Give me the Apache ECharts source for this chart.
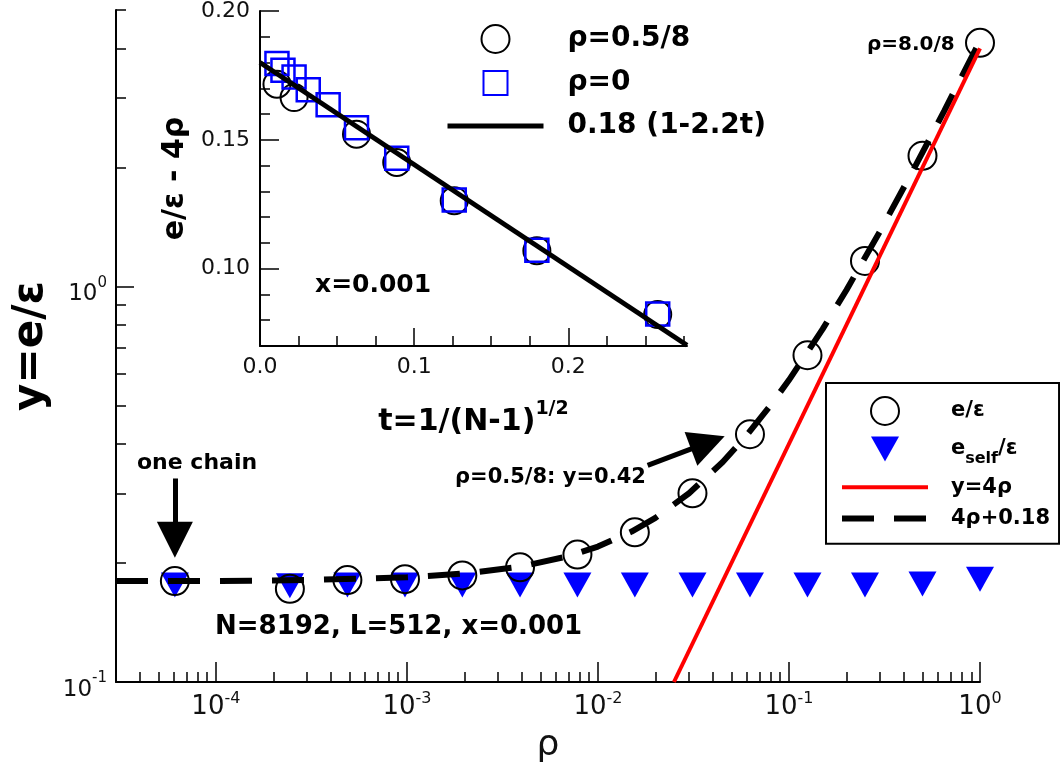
<!DOCTYPE html>
<html>
<head>
<meta charset="utf-8">
<script src="https://cdn.jsdelivr.net/npm/echarts@6/dist/echarts.min.js"></script>
<style>
html, body { margin: 0; padding: 0; background: #fff; }
#main { width: 1060px; height: 771px; }
</style>
</head>
<body>
<div id="main"></div>
<script>
// ---- main plot (log-log): y = e/eps against rho ----
var rho    = [6.1e-5, 2.44e-4, 4.88e-4, 9.77e-4, 1.95e-3, 3.91e-3, 7.81e-3, 0.0156, 0.03125, 0.0625, 0.125, 0.25, 0.5, 1.0];
var eTotal = [0.180, 0.172, 0.181, 0.182, 0.186, 0.195, 0.210, 0.239, 0.300, 0.423, 0.67, 1.16, 2.14, 4.13];
var eSelf  = [0.176, 0.175, 0.176, 0.176, 0.176, 0.176, 0.176, 0.176, 0.176, 0.176, 0.176, 0.176, 0.177, 0.182];

// dashed curve 4rho+0.18
var dashRho = [3e-5, 1e-4, 3e-4, 1e-3, 2e-3, 4e-3, 7e-3, 0.01, 0.015, 0.02, 0.03, 0.045, 0.06, 0.08, 0.1, 0.15, 0.2, 0.3, 0.45, 0.65, 1.0];
var dashY   = [0.180, 0.180, 0.181, 0.184, 0.188, 0.196, 0.208, 0.220, 0.240, 0.260, 0.300, 0.360, 0.420, 0.500, 0.580, 0.780, 0.980, 1.380, 1.980, 2.780, 4.180];
// red line y=4rho
var redRho = [0.025, 1.0];
var redY   = [0.1, 4.0];

var xMajor = [1e-4, 1e-3, 1e-2, 1e-1, 1];
var yMajor = [0.1, 1];

// ---- inset: e/eps - 4rho against t ----
var tSquare   = [0.0110, 0.0149, 0.0221, 0.0313, 0.0442, 0.0626, 0.0887, 0.126, 0.1796, 0.258];
var valSquare = [0.1796, 0.1770, 0.1744, 0.1694, 0.1636, 0.1547, 0.1429, 0.1267, 0.1072, 0.0824];
var tCircle   = [0.0110, 0.0221, 0.0626, 0.0887, 0.126, 0.1796, 0.258];
var valCircle = [0.1716, 0.1664, 0.1522, 0.1412, 0.1264, 0.1070, 0.0822];
var fitT = [0, 0.277];
var fitV = [0.18, 0.0703];

var tMajor = [0, 0.1, 0.2];
var tMinor = [0.025, 0.05, 0.075, 0.125, 0.15, 0.175, 0.225, 0.25, 0.275];
var inYMajor = [0.10, 0.15, 0.20];
var inYMinor = [0.08, 0.09, 0.11, 0.12, 0.13, 0.14, 0.16, 0.17, 0.18, 0.19];

// arrows (start, end) in data coords of the main plot
var arrowOneChain = [[6.1e-5, 0.327], [6.1e-5, 0.229]];
var arrowHalf     = [[0.0182, 0.353], [0.0376, 0.403]];

var xMinor = [], yMinor = [];
[1e-5, 1e-4, 1e-3, 1e-2, 1e-1].forEach(function (d) {
  for (var k = 2; k <= 9; k++) { var v = +(k * d).toPrecision(3); if (v >= 3e-5 && v < 1) xMinor.push(v); }
});
[0.1, 1].forEach(function (d) {
  for (var k = 2; k <= 9; k++) { var v = +(k * d).toPrecision(3); if (v <= 5) yMinor.push(v); }
});

function zip(a, b) { return a.map(function (v, i) { return [v, b[i]]; }); }
function pow10(v) { return '{b|10}{s|' + Math.round(Math.log10(v)) + '}'; }

var FONT = '"DejaVu Sans", "Liberation Sans", Arial, sans-serif';
var tick = { color: '#000', width: 1.5 };
var line2 = { color: '#000', width: 2 };
var hideSym = { color: 'rgba(0,0,0,0)', borderWidth: 0, opacity: 0 };
// legend keys: the leading moves fix the 28x28 box so the shape keeps its size
var iconTriDown = 'path://M0,0M28,28M0,1.5L28,1.5L14,26.5Z';
var iconSquare = 'path://M0,0M28,28M2,2L26,2L26,26L2,26Z';

var chart = echarts.init(document.getElementById('main'), null, { renderer: 'canvas' });

var option = {
  animation: false,
  backgroundColor: '#fff',
  textStyle: { fontFamily: FONT, color: '#000' },
  grid: [
    { left: 116, top: 10, right: 80, bottom: 89 },
    { left: 260, top: 10, right: 373, bottom: 425 }
  ],
  xAxis: [
    {
      type: 'log', gridIndex: 0, position: 'bottom', min: 3e-5, max: 1,
      axisLine: { lineStyle: line2 },
      axisTick: { inside: true, length: 20, customValues: xMajor, lineStyle: tick },
      axisLabel: {
        customValues: xMajor, formatter: pow10, margin: 10, color: '#000',
        rich: {
          b: { fontSize: 26, lineHeight: 30, fontFamily: FONT, color: '#111' },
          s: { fontSize: 16, lineHeight: 30, padding: [0, 0, 16, 0], fontFamily: FONT, color: '#111' }
        }
      },
      splitLine: { show: false },
      name: 'ρ', nameLocation: 'middle', nameGap: 43,
      nameTextStyle: { fontSize: 36, color: '#111', fontFamily: FONT }
    },
    {
      type: 'log', gridIndex: 0, position: 'bottom', offset: 0, min: 3e-5, max: 1,
      axisLine: { show: false },
      axisTick: { inside: true, length: 10, customValues: xMinor, lineStyle: tick },
      axisLabel: { show: false }, splitLine: { show: false }
    },
    {
      type: 'value', gridIndex: 1, position: 'bottom', min: 0, max: 0.277,
      axisLine: { lineStyle: line2 },
      axisTick: { inside: true, length: 18, customValues: tMajor, lineStyle: tick },
      axisLabel: {
        customValues: tMajor, margin: 10, fontSize: 22, color: '#111',
        formatter: function (v) { return v.toFixed(1); }
      },
      splitLine: { show: false },
      name: '{a|t=1/(N-1)}{s|1/2}', nameLocation: 'middle', nameGap: 58,
      nameTextStyle: {
        rich: {
          a: { fontSize: 30, fontWeight: 'bold', lineHeight: 36, fontFamily: FONT, color: '#000' },
          s: { fontSize: 19, fontWeight: 'bold', lineHeight: 36, padding: [0, 0, 26, 0], fontFamily: FONT, color: '#000' }
        }
      }
    },
    {
      type: 'value', gridIndex: 1, position: 'bottom', offset: 0, min: 0, max: 0.277,
      axisLine: { show: false },
      axisTick: { inside: true, length: 10, customValues: tMinor, lineStyle: tick },
      axisLabel: { show: false }, splitLine: { show: false }
    }
  ],
  yAxis: [
    {
      type: 'log', gridIndex: 0, position: 'left', min: 0.1, max: 5,
      axisLine: { lineStyle: line2 },
      axisTick: { inside: true, length: 18, customValues: yMajor, lineStyle: tick },
      axisLabel: {
        customValues: yMajor, formatter: pow10, margin: 9, color: '#111',
        rich: {
          b: { fontSize: 23, lineHeight: 28, padding: [16, 0, 0, 0], fontFamily: FONT, color: '#111' },
          s: { fontSize: 15, lineHeight: 28, padding: [0, 0, 7, 0], fontFamily: FONT, color: '#111' }
        }
      },
      splitLine: { show: false },
      name: 'y=e/ε', nameLocation: 'middle', nameRotate: 90, nameGap: 60,
      nameTextStyle: { fontSize: 42, fontWeight: 'bold', color: '#000', fontFamily: FONT }
    },
    {
      type: 'log', gridIndex: 0, position: 'left', offset: 0, min: 0.1, max: 5,
      axisLine: { show: false },
      axisTick: { inside: true, length: 10, customValues: yMinor, lineStyle: tick },
      axisLabel: { show: false }, splitLine: { show: false }
    },
    {
      type: 'value', gridIndex: 1, position: 'left', min: 0.07, max: 0.2,
      axisLine: { lineStyle: line2 },
      axisTick: { inside: true, length: 19, customValues: inYMajor, lineStyle: tick },
      axisLabel: {
        customValues: inYMajor, margin: 10, fontSize: 22, color: '#111',
        formatter: function (v) { return v.toFixed(2); }
      },
      splitLine: { show: false },
      name: 'e/ε - 4ρ', nameLocation: 'middle', nameRotate: 90, nameGap: 70,
      nameTextStyle: { fontSize: 30, fontWeight: 'bold', color: '#000', fontFamily: FONT }
    },
    {
      type: 'value', gridIndex: 1, position: 'left', offset: 0, min: 0.07, max: 0.2,
      axisLine: { show: false },
      axisTick: { inside: true, length: 10, customValues: inYMinor, lineStyle: tick },
      axisLabel: { show: false }, splitLine: { show: false }
    }
  ],
  legend: [
    {
      data: [
        { name: 'e/ε' },
        { name: 'e_self/ε', icon: iconTriDown },
        { name: 'y=4ρ', itemStyle: hideSym, lineStyle: { color: '#ff0000', width: 4 } },
        { name: '4ρ+0.18', itemStyle: hideSym, lineStyle: { color: '#000', width: 6, type: [32, 20] } }
      ],
      orient: 'vertical', left: 826, top: 383,
      itemWidth: 86, itemHeight: 28, itemGap: 9,
      padding: [13, 9, 14, 13],
      borderColor: '#000', borderWidth: 2, backgroundColor: '#fff',
      selectedMode: false,
      formatter: function (n) {
        if (n === 'e_self/ε') return '{f|e}{sub|self}{t|/ε}';
        return '{f|' + n + '}';
      },
      textStyle: {
        rich: {
          f: { fontSize: 21, fontWeight: 'bold', lineHeight: 26, padding: [0, 0, 0, 18], fontFamily: FONT, color: '#000' },
          t: { fontSize: 21, fontWeight: 'bold', lineHeight: 26, fontFamily: FONT, color: '#000' },
          sub: { fontSize: 16, fontWeight: 'bold', lineHeight: 26, height: 6, padding: [20, 0, 0, 0], fontFamily: FONT, color: '#000' }
        }
      }
    },
    {
      data: [
        { name: 'ρ=0.5/8' },
        { name: 'ρ=0', icon: iconSquare },
        { name: '0.18 (1-2.2t)', itemStyle: hideSym, lineStyle: { color: '#000', width: 5 } }
      ],
      orient: 'vertical', left: 445, top: 24,
      itemWidth: 96, itemHeight: 28, itemGap: 14, padding: 0,
      selectedMode: false,
      formatter: function (n) { return '{f|' + n + '}'; },
      textStyle: {
        rich: {
          f: { fontSize: 28, fontWeight: 'bold', lineHeight: 30, padding: [0, 0, 0, 19], fontFamily: FONT, color: '#000' }
        }
      }
    }
  ],
  graphic: [
    { type: 'text', x: 137, y: 463, style: { text: 'one chain', font: 'bold 22px ' + FONT, fill: '#000', verticalAlign: 'middle' } },
    { type: 'text', x: 455, y: 478, style: { text: 'ρ=0.5/8: y=0.42', font: 'bold 21px ' + FONT, fill: '#000', verticalAlign: 'middle' } },
    { type: 'text', x: 867, y: 45, style: { text: 'ρ=8.0/8', font: 'bold 20px ' + FONT, fill: '#000', verticalAlign: 'middle' } },
    { type: 'text', x: 215, y: 627, style: { text: 'N=8192, L=512, x=0.001', font: 'bold 26px ' + FONT, fill: '#000', verticalAlign: 'middle' } },
    { type: 'text', x: 315, y: 285, style: { text: 'x=0.001', font: 'bold 25px ' + FONT, fill: '#000', verticalAlign: 'middle' } }
  ],
  series: [
    {
      name: 'e_self/ε', type: 'scatter', xAxisIndex: 0, yAxisIndex: 0,
      data: zip(rho, eSelf), symbol: 'triangle', symbolRotate: 180, symbolSize: [28, 25],
      itemStyle: { color: '#0000ff', opacity: 1 }, z: 2
    },
    {
      name: 'e/ε', type: 'scatter', xAxisIndex: 0, yAxisIndex: 0,
      data: zip(rho, eTotal), symbol: 'circle', symbolSize: 28,
      itemStyle: { color: 'rgba(0,0,0,0)', borderColor: '#000', borderWidth: 2, opacity: 1 }, z: 3,
      markLine: {
        silent: true, symbol: ['none', 'triangle'], symbolSize: 36,
        label: { show: false },
        lineStyle: { color: '#000', width: 5, type: 'solid', opacity: 1 },
        data: [
          [{ coord: arrowOneChain[0] }, { coord: arrowOneChain[1] }],
          [{ coord: arrowHalf[0] }, { coord: arrowHalf[1] }]
        ]
      }
    },
    {
      name: '4ρ+0.18', type: 'line', xAxisIndex: 0, yAxisIndex: 0,
      data: zip(dashRho, dashY), symbol: 'none',
      itemStyle: { color: '#000' },
      lineStyle: { color: '#000', width: 6, type: [32, 20] }, z: 4
    },
    {
      name: 'y=4ρ', type: 'line', xAxisIndex: 0, yAxisIndex: 0,
      data: zip(redRho, redY), symbol: 'none',
      itemStyle: { color: '#ff0000' },
      lineStyle: { color: '#ff0000', width: 4 }, z: 5
    },
    {
      name: 'ρ=0.5/8', type: 'scatter', xAxisIndex: 2, yAxisIndex: 2,
      data: zip(tCircle, valCircle), symbol: 'circle', symbolSize: 27,
      itemStyle: { color: 'rgba(0,0,0,0)', borderColor: '#000', borderWidth: 2, opacity: 1 }, z: 3
    },
    {
      name: 'ρ=0', type: 'scatter', xAxisIndex: 2, yAxisIndex: 2,
      data: zip(tSquare, valSquare), symbol: 'rect', symbolSize: 23,
      itemStyle: { color: 'rgba(0,0,0,0)', borderColor: '#0000ff', borderWidth: 2.5, opacity: 1 }, z: 4
    },
    {
      name: '0.18 (1-2.2t)', type: 'line', xAxisIndex: 2, yAxisIndex: 2,
      data: zip(fitT, fitV), symbol: 'none',
      itemStyle: { color: '#000' },
      lineStyle: { color: '#000', width: 5 }, z: 5
    }
  ]
};

chart.setOption(option);
</script>
</body>
</html>
